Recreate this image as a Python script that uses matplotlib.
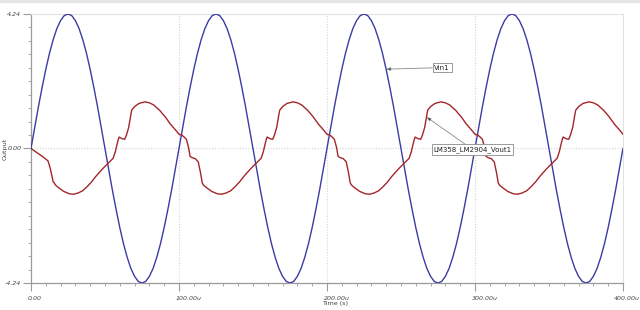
import numpy as np
import matplotlib.pyplot as plt
import matplotlib.transforms as mtransforms
from matplotlib.patches import Rectangle

# Time axis in microseconds, one period of the source = 100u
PERIOD = 100.0
N_PERIODS = 4

# Vin1: one period sampled every 2.5u (volts)
VIN_CYCLE = [0.00, 0.66, 1.31, 1.92, 2.49, 3.00, 3.43, 3.78, 4.03, 4.19,
             4.24, 4.19, 4.03, 3.78, 3.43, 3.00, 2.49, 1.92, 1.31, 0.66,
             0.00, -0.66, -1.31, -1.92, -2.49, -3.00, -3.43, -3.78, -4.03, -4.19,
             -4.24, -4.19, -4.03, -3.78, -3.43, -3.00, -2.49, -1.92, -1.31, -0.66]
VIN_STEP = 2.5

# Vout1 start-up (first few microseconds of the first period)
VOUT_T_START = [0.0, 4.0, 8.0, 11.5, 13.0, 15.0]
VOUT_V_START = [0.00, -0.13, -0.26, -0.39, -0.62, -1.05]

# Vout1 steady-state period (traced)
VOUT_T_CYCLE = [0, 2, 4, 5, 6.5, 7.5, 9, 11, 13, 14.5, 15.7, 16.5, 18.5, 22, 26,
                29, 32, 35, 38, 41, 44, 48, 52, 55.5, 57, 58.5, 59.5, 61.5, 63.3,
                64.5, 66, 68, 70, 73, 77, 80, 83, 87, 91, 94, 97]
VOUT_V_CYCLE = [0.45, 0.42, 0.34, 0.29, 0.03, -0.25, -0.29, -0.32, -0.42, -0.75,
                -1.08, -1.15, -1.23, -1.35, -1.43, -1.44, -1.40, -1.33, -1.20,
                -1.05, -0.87, -0.66, -0.47, -0.31, -0.10, 0.20, 0.36, 0.31, 0.29,
                0.42, 0.66, 1.20, 1.32, 1.42, 1.47, 1.44, 1.37, 1.20, 0.98, 0.78,
                0.62]
VOUT_END = 0.45

Y_TICKS = [-4.24, 0.0, 4.24]
Y_TICK_LABELS = ["-4.24", "0.00", "4.24"]
X_TICKS = [0, 100, 200, 300, 400]
X_TICK_LABELS = ["0.00", "100.00u", "200.00u", "300.00u", "400.00u"]

BLUE = "#3b3ba6"
RED = "#a3262a"
GRID = "#d4d4d4"
AXIS = "#9a9a9a"
TXT = "#444444"

# build the series
vin = np.tile(VIN_CYCLE, N_PERIODS).tolist() + [VIN_CYCLE[0]]
vin_t = np.arange(len(vin)) * VIN_STEP

vout_t = list(VOUT_T_START)
vout_v = list(VOUT_V_START)
for t, v in zip(VOUT_T_CYCLE, VOUT_V_CYCLE):
    if t > VOUT_T_START[-1]:
        vout_t.append(t)
        vout_v.append(v)
for k in range(1, N_PERIODS):
    vout_t += [t + k * PERIOD for t in VOUT_T_CYCLE]
    vout_v += list(VOUT_V_CYCLE)
vout_t.append(N_PERIODS * PERIOD)
vout_v.append(VOUT_END)

fig = plt.figure(figsize=(6.4, 3.1), dpi=100)
fig.patches.append(Rectangle((0, 0.992), 1, 0.008, transform=fig.transFigure,
                             color="#e6e6e6", zorder=0))
ax = fig.add_axes([0.0484, 0.087, 0.925, 0.868])

ax.plot(vin_t, vin, color=BLUE, lw=1.0, zorder=3)
ax.plot(vout_t, vout_v, color=RED, lw=1.0, zorder=3)

ax.set_xlim(0, 400)
ax.set_ylim(-4.24, 4.24)

# grid
for x in X_TICKS[1:-1]:
    ax.axvline(x, color=GRID, lw=0.8, ls=(0, (1, 1.5)), zorder=1)
ax.axhline(0, color=GRID, lw=0.8, ls=(0, (1, 1.5)), zorder=1)

for s in ["top", "right"]:
    ax.spines[s].set_color("#e2e2e2")
    ax.spines[s].set_linewidth(0.8)
for s in ["left", "bottom"]:
    ax.spines[s].set_color(AXIS)
    ax.spines[s].set_linewidth(0.9)

ax.set_xticks(X_TICKS)
ax.set_xticklabels(X_TICK_LABELS, fontsize=4.5, style="italic", color=TXT, ha="left")
ax.set_xticks(np.arange(0, 401, 10), minor=True)
ax.set_yticks(Y_TICKS)
ax.set_yticklabels(Y_TICK_LABELS, fontsize=4.6, style="italic", color=TXT)
ax.set_yticks(np.linspace(-4.24, 4.24, 21), minor=True)
ax.tick_params(axis="both", which="major", length=6, width=0.8, color=AXIS, pad=1)
ax.tick_params(axis="both", which="minor", length=2.5, width=0.6, color=AXIS)
ax.tick_params(axis="x", which="major", pad=3)

# labels start just left of their tick; the last one is pulled in to fit
xlabels = ax.get_xticklabels()
for i, lab in enumerate(xlabels):
    dx = -9 if i == len(xlabels) - 1 else -3
    shift = mtransforms.ScaledTranslation(dx / 100, 0, fig.dpi_scale_trans)
    lab.set_transform(lab.get_transform() + shift)

ax.set_xlabel("Time (s)", fontsize=4.6, color=TXT)
ax.xaxis.set_label_coords(0.514, -0.066)
ax.set_ylabel("Output", fontsize=4.6, color=TXT)
ax.yaxis.set_label_coords(-0.039, 0.5)

box = dict(boxstyle="square,pad=0.25", fc="white", ec="#8a8a8a", lw=0.6)
ax.annotate("Vin1", xy=(240, 2.50), xytext=(272.5, 2.55), fontsize=5, color="#222222",
            va="center", ha="left", bbox=box,
            arrowprops=dict(arrowstyle="-|>,head_length=0.5,head_width=0.2",
                            color="#8a8a8a", lw=0.6, shrinkA=0, shrinkB=0,
                            fc="black", ec="#8a8a8a"))
ax.annotate("LM358_LM2904_Vout1", xy=(267.3, 0.99), xytext=(272, -0.03), fontsize=5,
            color="#222222", va="center", ha="left", bbox=box,
            arrowprops=dict(arrowstyle="-|>,head_length=0.5,head_width=0.2",
                            color="#8a8a8a", lw=0.6, shrinkA=0, shrinkB=0,
                            fc="black", ec="#8a8a8a"))

fig.savefig("out.png", dpi=100)
